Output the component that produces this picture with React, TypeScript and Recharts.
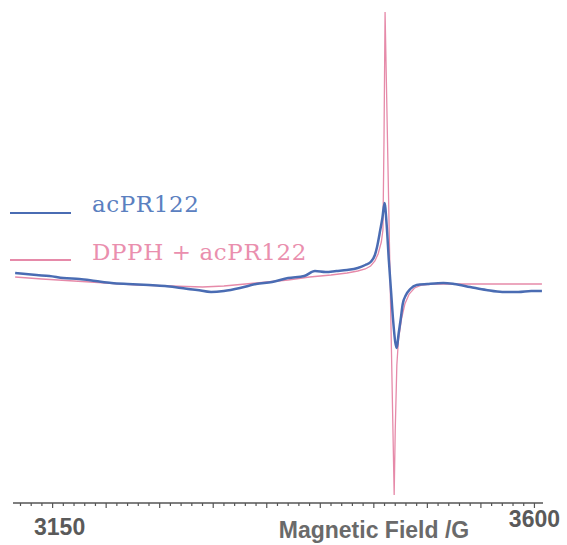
import { LineChart, Line, XAxis, YAxis, Legend, Label } from 'recharts';

// field (G) values of the two traces, intensity in arbitrary units
const acField = [
    3115, 3125, 3135, 3147, 3160, 3175, 3190, 3205, 3220, 3240, 3255, 3270, 3285, 3298,
    3310, 3325, 3340, 3355, 3370, 3385, 3395, 3405, 3415, 3425, 3435, 3442, 3447, 3451,
    3453, 3456, 3458, 3460, 3462, 3464, 3466, 3468, 3470, 3471.5, 3473, 3475, 3477, 3480,
    3484, 3490, 3500, 3515, 3525, 3540, 3555, 3570, 3585, 3597, 3607,
];
const acSignal = [
    7, 6, 5, 4, 2, 1, -1, -3, -4, -5, -6, -8, -10, -12,
    -11, -8, -4, -2, 2, 4, 9, 8, 9, 10, 12, 15, 18, 25,
    33, 50, 62, 77, 55, 20, -10, -40, -62, -68, -55, -40, -24, -15,
    -9, -5, -4, -3, -4, -7, -10, -12, -12, -11, -11,
];

const dpphField = [
    3115, 3140, 3170, 3200, 3230, 3260, 3290, 3310, 3330, 3350, 3370, 3390, 3410, 3425,
    3435, 3442, 3447, 3451, 3454, 3457, 3458.5, 3459.5, 3460.5, 3469, 3470, 3471.5, 3473,
    3476, 3479, 3483, 3488, 3495, 3505, 3530, 3560, 3590, 3607,
];
const dpphSignal = [
    3, 1, -1, -3, -5, -6, -7, -6, -4, -2, 0, 3, 5, 7,
    9, 11, 14, 19, 26, 38, 50, 140, 268, -215, -150, -85, -60,
    -38, -24, -14, -8, -5, -4, -4, -4, -4, -4,
];

const fieldTicks = Array.from({ length: 49 }, (_, i) => 3120 + i * 10);
const labelledTicks = [3150, 3600];

const acData = acField.map((g, i) => ({ g, v: acSignal[i] }));
const dpphData = dpphField.map((g, i) => ({ g, v: dpphSignal[i] }));

const BLUE = '#4a6cb3';
const PINK = '#e68aa9';

const FieldTick = ({ x, y, payload }: any) => {
    const v = payload.value;
    const major = v % 50 === 0;
    const shown = labelledTicks.includes(v);
    return (
        <g>
            <line x1={x} x2={x} y1={y} y2={y + (major ? 5 : 3)} stroke="#555" strokeWidth={1.2} />
            {shown && (
                <text
                    x={v === 3150 ? x + 7 : x}
                    y={v === 3150 ? y + 32 : y + 24}
                    textAnchor="middle"
                    fontFamily="'Liberation Sans', Arial, sans-serif"
                    fontWeight="bold"
                    fontSize={23}
                    fill="#5a5a5a"
                >
                    {v}
                </text>
            )}
        </g>
    );
};

const renderLegend = () => (
    <svg width={330} height={85}>
        <line x1={10} x2={71} y1={23} y2={23} stroke={BLUE} strokeWidth={2} />
        <text x={92} y={22} fontFamily="'DejaVu Serif', serif" fontSize={23} letterSpacing={0.6} fill="#5b80c0">
            acPR122
        </text>
        <line x1={10} x2={71} y1={70} y2={70} stroke={PINK} strokeWidth={2} />
        <text x={92} y={70} fontFamily="'DejaVu Serif', serif" fontSize={23} letterSpacing={0.6} fill="#ea8fae">
            DPPH + acPR122
        </text>
    </svg>
);

const App = () => {
    return (
        <div style={{ position: 'absolute', left: 0, top: 0, background: '#fff' }}>
            <LineChart width={567} height={545} margin={{ top: 10, right: 24, left: 13, bottom: 0 }}>
                <XAxis
                    type="number"
                    dataKey="g"
                    domain={[3113, 3608]}
                    allowDataOverflow
                    ticks={fieldTicks}
                    interval={0}
                    tickSize={0}
                    tickMargin={0}
                    height={42}
                    axisLine={{ stroke: '#555', strokeWidth: 1.5 }}
                    tick={<FieldTick />}
                >
                    <Label
                        content={() => (
                            <text
                                x={374}
                                y={538}
                                textAnchor="middle"
                                fontFamily="'Liberation Sans', Arial, sans-serif"
                                fontWeight="bold"
                                fontSize={23}
                                fill="#6a6a6a"
                            >
                                Magnetic Field /G
                            </text>
                        )}
                    />
                </XAxis>
                <YAxis hide type="number" domain={[-223, 270]} allowDataOverflow />
                <Legend
                    layout="vertical"
                    align="center"
                    verticalAlign="middle"
                    content={renderLegend}
                    wrapperStyle={{ left: 0, top: 190, width: 330, height: 85 }}
                />
                <Line
                    data={dpphData}
                    dataKey="v"
                    name="DPPH + acPR122"
                    type="linear"
                    stroke={PINK}
                    strokeWidth={1.3}
                    dot={false}
                    isAnimationActive={false}
                />
                <Line
                    data={acData}
                    dataKey="v"
                    name="acPR122"
                    type="monotone"
                    stroke={BLUE}
                    strokeWidth={2.5}
                    dot={false}
                    isAnimationActive={false}
                />
            </LineChart>
        </div>
    );
};

export default App;
